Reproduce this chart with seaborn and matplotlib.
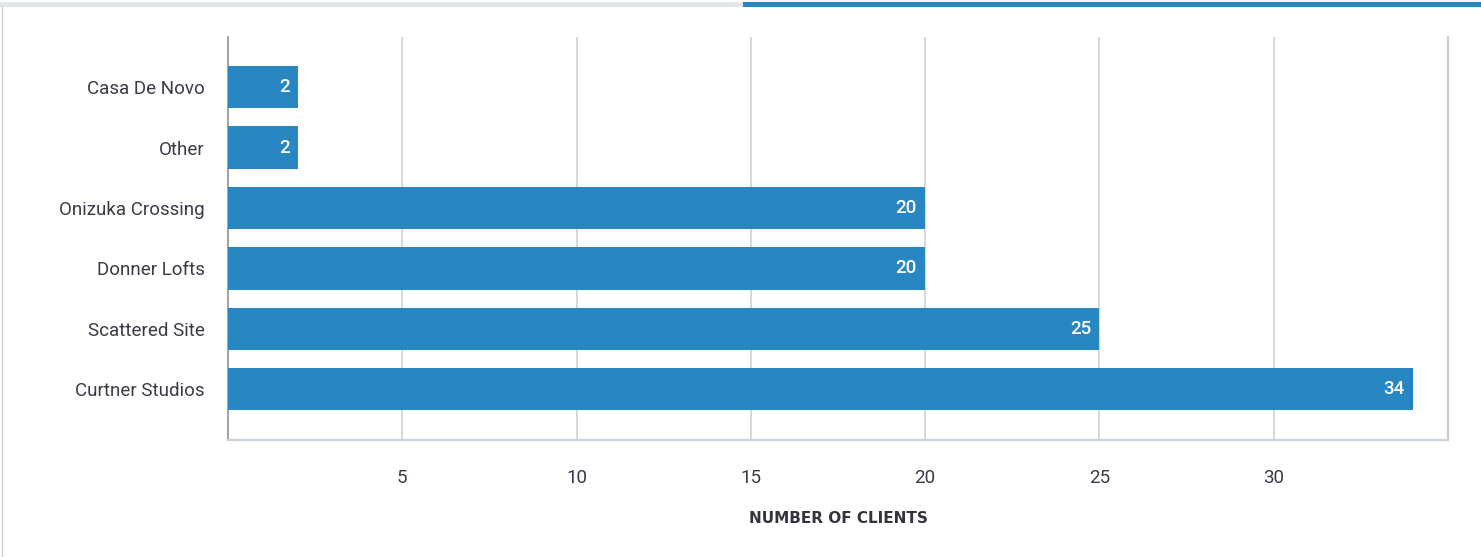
import matplotlib
matplotlib.use("Agg")
import matplotlib.pyplot as plt
import seaborn as sns
import pandas as pd
from matplotlib.patches import Rectangle
from matplotlib.lines import Line2D

categories = ["Casa De Novo", "Other", "Onizuka Crossing", "Donner Lofts", "Scattered Site", "Curtner Studios"]
clients = [2, 2, 20, 20, 25, 34]
xticks = [5, 10, 15, 20, 25, 30]
xlabel = "NUMBER OF CLIENTS"

sns.set_theme(style="white")
plt.rcParams["font.family"] = ["Roboto", "DejaVu Sans"]

df = pd.DataFrame({"Property": categories, "Clients": clients})

fig = plt.figure(figsize=(14.81, 5.57), dpi=100)
ax = fig.add_axes([228/1481, 1-440/557, (1448-228)/1481, (440-37)/557])

BLUE = "#2886c3"
sns.barplot(data=df, y="Property", x="Clients", orient="h", color=BLUE,
            saturation=1, width=0.7, ax=ax, zorder=3, linewidth=0, edgecolor="none")

ax.set_xlim(0, 35)
ax.set_ylim(5.84, -0.83)
ax.set_xticks(xticks)
ax.set_xticklabels([str(t) for t in xticks])
ax.xaxis.grid(True, color="#d4d4d4", linewidth=1.3, zorder=0)
ax.set_axisbelow(True)
ax.tick_params(axis="x", length=0, pad=21, labelsize=13.5, labelcolor="#3a3a48")
ax.tick_params(axis="y", length=0, pad=17, labelsize=13.5, labelcolor="#3a3a48")
ax.set_ylabel("")
ax.set_xlabel(xlabel, fontsize=11, fontweight="bold", color="#34343f", labelpad=17,
              family=["DejaVu Sans"])

ax.spines["top"].set_visible(False)
ax.spines["left"].set_color("#9a9a9a")
ax.spines["left"].set_linewidth(1.3)
ax.spines["bottom"].set_color("#c8d3dc")
ax.spines["bottom"].set_linewidth(1.6)
ax.spines["right"].set_color("#cccccc")
ax.spines["right"].set_linewidth(1.6)

for p, v in zip(ax.patches, clients):
    ax.annotate(str(v), xy=(p.get_x() + p.get_width(), p.get_y() + p.get_height() / 2),
                xytext=(-6, 0), textcoords="offset points", ha="right", va="center",
                color="white", fontsize=13.5, fontweight="medium", zorder=4)

# top decorative bar and left border
fig.add_artist(Rectangle((0, 1-7/557), 743/1481, 5/557, transform=fig.transFigure,
                         facecolor="#e2e7eb", edgecolor="none"))
fig.add_artist(Rectangle((743/1481, 1-7/557), 1-743/1481, 5/557, transform=fig.transFigure,
                         facecolor="#2886c3", edgecolor="none"))
fig.add_artist(Line2D([1.5/1481, 1.5/1481], [0, 1-7/557], transform=fig.transFigure,
                      color="#d0d0d0", linewidth=1))

fig.savefig("out.png", dpi=100)
